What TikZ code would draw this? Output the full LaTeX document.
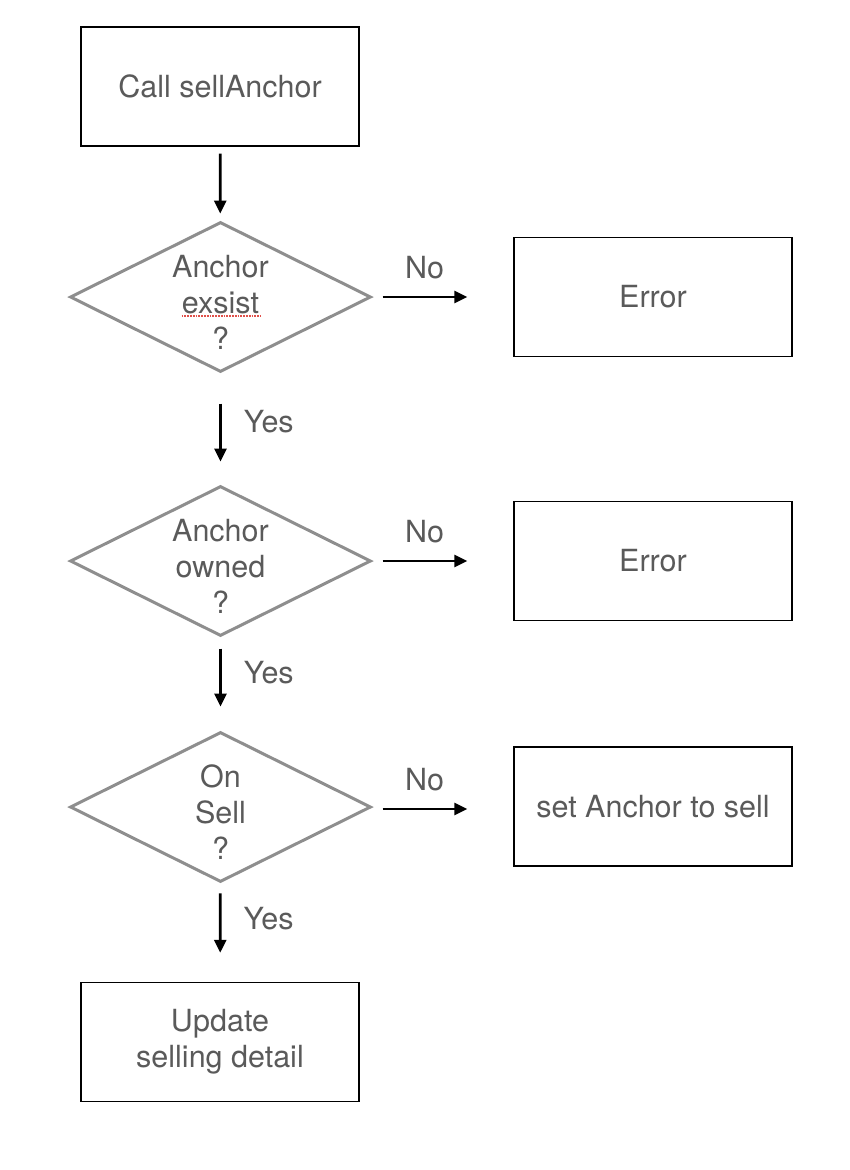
\documentclass[tikz,border=0pt]{standalone}
\usepackage{fontspec}
\setmainfont{TeX Gyre Heros}
\usepackage{tikz}
\usetikzlibrary{arrows.meta}
\usetikzlibrary{shapes.geometric}
\usetikzlibrary{calc}
\definecolor{FlowText}{HTML}{5A5A5A}
\definecolor{FlowEdge}{HTML}{8E8E8E}
\definecolor{SpellRed}{HTML}{E0504A}
\newcommand{\boxsizex}{278pt}
\newcommand{\boxsizey}{119pt}
\newcommand{\dmdsizex}{301pt}
\newcommand{\dmdsizey}{150pt}
\newcommand{\colmain}{220.5}
\newcommand{\colside}{653}
\newcommand{\flowfont}{\fontsize{30.5}{36}\selectfont}

\begin{document}
\begin{tikzpicture}[x=1pt,y=-1pt,
    stepbox/.style={draw=black,line width=1.4pt,minimum width=\boxsizex,
      minimum height=\boxsizey,text=FlowText,font=\flowfont,align=center},
    askbox/.style={diamond,draw=FlowEdge,line width=3pt,aspect=2,inner sep=0pt,
      minimum width=\dmdsizex,minimum height=\dmdsizey},
    asktext/.style={text=FlowText,font=\flowfont,align=center,inner sep=0pt,
      yshift=-5pt},
    flow/.style={line width=2.8pt,-{Triangle[length=13pt,width=12pt]}},
    answer/.style={text=FlowText,font=\flowfont,inner sep=0pt}]
    \useasboundingbox (0,0) rectangle (850,1170);

    % main column
    \node[stepbox] (call) at (220,86.5) {Call sellAnchor};
    \node[askbox,label={[asktext]center:{Anchor\\exsist\\?}}] (exists)
      at (\colmain,297) {};
    \node[askbox,label={[asktext]center:{Anchor\\owned\\?}}] (owned)
      at (\colmain,561) {};
    \node[askbox,label={[asktext]center:{On\\Sell\\?}}] (onsell)
      at (\colmain,807) {};
    \node[stepbox] (update) at (220,1042) {Update\\selling detail};

    % side column
    \node[stepbox] (err1) at (\colside,297) {Error};
    \node[stepbox] (err2) at (\colside,561) {Error};
    \node[stepbox] (setsell) at (\colside,806.5) {set Anchor to sell};

    % spell check mark
    \draw[SpellRed,line width=1.8pt,densely dotted]
      ($(exists.center)+(-39,19)$) -- ($(exists.center)+(40,19)$);

    \begin{scope}
      \draw[flow,shorten <=7pt,shorten >=7pt] (call) -- (exists);
      \draw[flow,shorten <=30pt,shorten >=23pt] (exists) --
        node[answer,pos=0.43,right=22pt] {Yes} (owned);
      \draw[flow,shorten <=11pt,shorten >=24pt] (owned) --
        node[answer,pos=0.375,right=22pt] {Yes} (onsell);
      \draw[flow,shorten <=10pt,shorten >=29pt] (onsell) --
        node[answer,pos=0.36,right=22pt] {Yes} (update);
    \end{scope}
    \begin{scope}
      \draw[flow,shorten <=10pt,shorten >=46pt] (exists.east) --
        node[answer,pos=0.37,above=17pt] {No} (err1.west);
      \draw[flow,shorten <=10pt,shorten >=46pt] (owned.east) --
        node[answer,pos=0.37,above=17pt] {No} (err2.west);
      \draw[flow,shorten <=10pt,shorten >=46pt] ($(onsell.east)+(0,2)$) --
        node[answer,pos=0.37,above=17pt] {No} ($(onsell.east -| setsell.west)+(0,2)$);
    \end{scope}
  \end{tikzpicture}
\end{document}
